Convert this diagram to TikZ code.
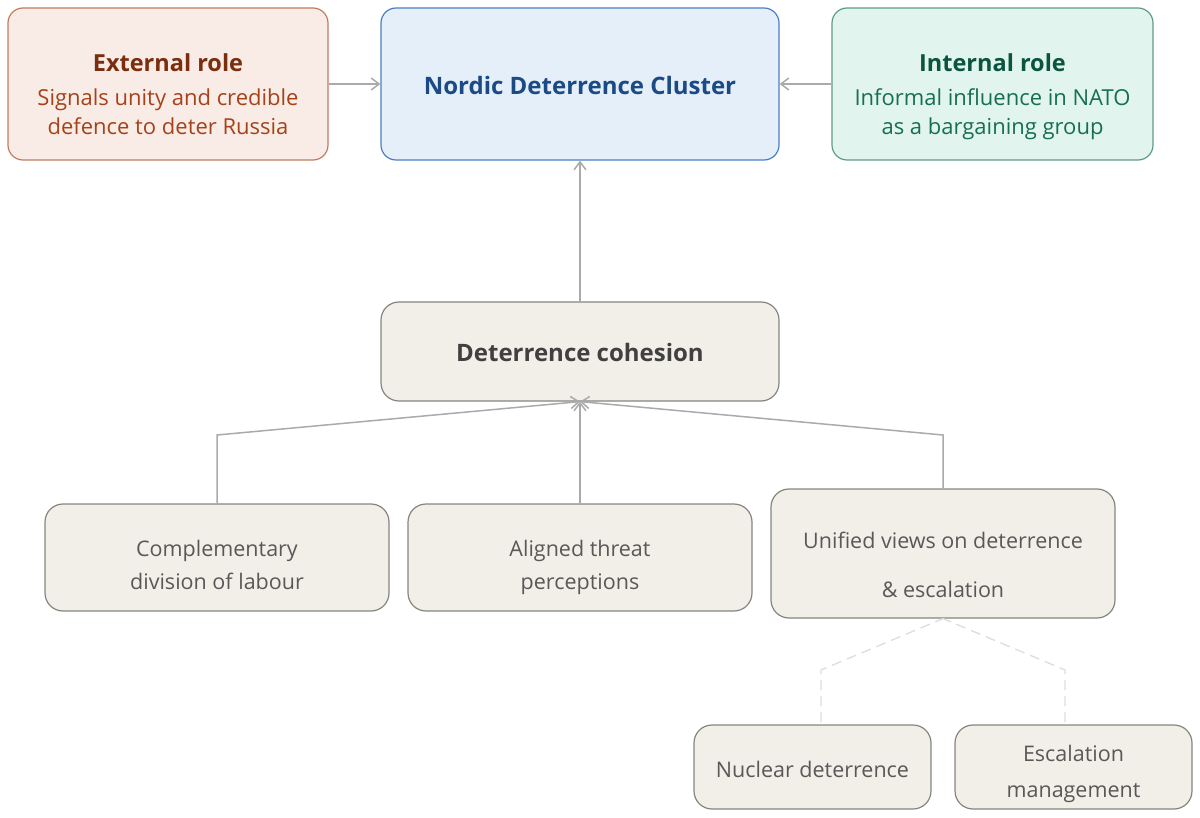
\documentclass[tikz,border=0pt]{standalone}
\usepackage{fontspec}
\setmainfont{Open Sans}
\usetikzlibrary{arrows.meta}
\definecolor{extfill}{HTML}{F9ECE6}
\definecolor{extdraw}{HTML}{C27B62}
\definecolor{exttitle}{HTML}{7B2E0E}
\definecolor{exttext}{HTML}{A4431B}
\definecolor{nordfill}{HTML}{E5EFFA}
\definecolor{norddraw}{HTML}{4A7EC4}
\definecolor{nordtext}{HTML}{1B4A85}
\definecolor{intfill}{HTML}{E2F4EE}
\definecolor{intdraw}{HTML}{5E9C85}
\definecolor{inttitle}{HTML}{0B5540}
\definecolor{inttext}{HTML}{16704F}
\definecolor{grayfill}{HTML}{F2EFE8}
\definecolor{graydraw}{HTML}{858580}
\definecolor{graytitle}{HTML}{404040}
\definecolor{graytext}{HTML}{585858}
\definecolor{conn}{HTML}{AAAAAA}
\definecolor{dconn}{HTML}{DDDDDD}
\tikzset{
  box/.style={rectangle, rounded corners=15pt, line width=1.2pt, inner sep=0pt},
  extbox/.style={box, fill=extfill, draw=extdraw},
  nordbox/.style={box, fill=nordfill, draw=norddraw},
  intbox/.style={box, fill=intfill, draw=intdraw},
  graybox/.style={box, fill=grayfill, draw=graydraw, rounded corners=18pt},
  titletxt/.style={font=\fontsize{23.5}{28}\selectfont\bfseries, anchor=base, inner sep=0pt},
  bigtxt/.style={font=\fontsize{24}{28}\selectfont\bfseries, inner sep=0pt},
  bodytxt/.style={font=\fontsize{22}{26}\selectfont, anchor=base, inner sep=0pt},
  smalltxt/.style={font=\fontsize{21.5}{26}\selectfont, anchor=base, inner sep=0pt, text=graytext},
  conline/.style={draw=conn, line width=1.5pt},
  arr/.style={conline, -{Straight Barb[length=8pt,width=12pt,line width=1.5pt]}},
  dline/.style={draw=dconn, line width=1.3pt, dash pattern=on 10pt off 6pt},
}
\begin{document}
\begin{tikzpicture}[x=1pt,y=-1pt]
\useasboundingbox (0,0) rectangle (1200,818);
% top row
\node[extbox, minimum width=320pt, minimum height=152pt] (ext) at (168,84) {};
\node[titletxt, text=exttitle] (extT) at (168,72) {External role};
\node[bodytxt, text=exttext] (extB1) at (168,106) {Signals unity and credible};
\node[bodytxt, text=exttext] (extB2) at (168,135) {defence to deter Russia};

\node[nordbox, minimum width=398pt, minimum height=152pt] (nord) at (580,84) {};
\node[bigtxt, text=nordtext] (nordT) at (580,86) {Nordic Deterrence Cluster};

\node[intbox, minimum width=321pt, minimum height=152pt] (int) at (992.5,84) {};
\node[titletxt, text=inttitle] (intT) at (992.5,72) {Internal role};
\node[bodytxt, text=inttext] (intB1) at (992.5,106) {Informal influence in NATO};
\node[bodytxt, text=inttext] (intB2) at (992.5,135) {as a bargaining group};

% cohesion
\node[graybox, minimum width=398pt, minimum height=99pt] (coh) at (580,351.5) {};
\node[bigtxt, text=graytitle] (cohT) at (580,353) {Deterrence cohesion};

% bottom row
\node[graybox, minimum width=344pt, minimum height=107pt] (comp) at (217,557.5) {};
\node[smalltxt] (compT1) at (217,556) {Complementary};
\node[smalltxt] (compT2) at (217,589) {division of labour};

\node[graybox, minimum width=344pt, minimum height=107pt] (alig) at (580,557.5) {};
\node[smalltxt] (aligT1) at (580,556) {Aligned threat};
\node[smalltxt] (aligT2) at (580,589) {perceptions};

\node[graybox, minimum width=344pt, minimum height=129pt] (unif) at (943,553.5) {};
\node[smalltxt] (unifT1) at (943,548) {Unified views on deterrence};
\node[smalltxt] (unifT2) at (943,597) {\& escalation};

\node[graybox, minimum width=237pt, minimum height=84pt] (nucl) at (812.5,767) {};
\node[smalltxt] (nuclT) at (812.5,777) {Nuclear deterrence};

\node[graybox, minimum width=237pt, minimum height=84pt] (esc) at (1073.5,767) {};
\node[smalltxt] (escT1) at (1073.5,761) {Escalation};
\node[smalltxt] (escT2) at (1073.5,797) {management};

% connectors
\draw[arr] (ext.east) -- (nord.west);
\draw[arr] (int.west) -- (nord.east);
\draw[arr] (coh.north) -- (nord.south);

\coordinate (compK) at (217,435);
\coordinate (unifK) at (943,435);
\draw[arr] (comp.north) -- (compK) -- (coh.south);
\draw[arr] (alig.north) -- (coh.south);
\draw[arr] (unif.north) -- (unifK) -- (coh.south);

\coordinate (nuclS) at (821,722);
\coordinate (nuclK) at (821,670);
\coordinate (escS) at (1065,722);
\coordinate (escK) at (1065,670);
\draw[dline] (nuclS) -- (nuclK) -- (unif.south);
\draw[dline] (escS) -- (escK) -- (unif.south);
\end{tikzpicture}
\end{document}
